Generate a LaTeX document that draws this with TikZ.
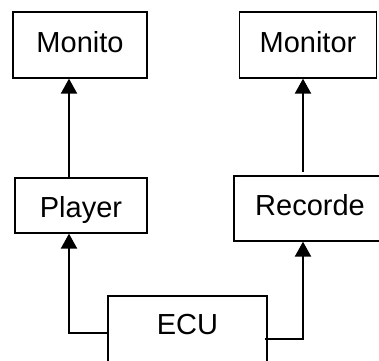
\documentclass[tikz,border=0pt]{standalone}
\usepackage{fontspec}
\setmainfont{Liberation Sans}
\usetikzlibrary{arrows.meta}

\begin{document}
\begin{tikzpicture}[x=1pt, y=-1pt,
		box/.style={draw, line width=1.3pt, inner sep=0pt, anchor=base, font=\fontsize{29}{34}\selectfont},
		link/.style={line width=2.2pt, -{Triangle[width=16pt,length=15pt]}}]
		%% The clip keeps the page at the size of the picture, so the boxes that run off the edge are cut
		\clip (0,0) rectangle (379,360);
		%% The boxes, placed at the baselines of their texts; text height and depth set the top and bottom edges
		\node[box, minimum width=134pt, text height=40pt, text depth=26pt] (monito) at (80,52) {Monito};
		\node[box, minimum width=137pt, text height=40pt, text depth=26pt] (monitor) at (308,52) {Monitor};
		\node[box, minimum width=132pt, text height=39pt, text depth=16pt] (player) at (81,217) {Player};
		\node[box, minimum width=152pt, text height=39pt, text depth=26pt] (recorde) at (310,215) {Recorde};
		%% The ECU text sits near the top of its box, so the depth pushes the box down
		\node[box, minimum width=159pt, text height=38pt, text depth=40pt] (ecu) at (187.5,334) {ECU};
		%% The arrows
		\draw[link] ([yshift=2pt]ecu.west) -| ([xshift=-12pt]player.south);
		\draw[link] ([xshift=-3pt,yshift=-4pt]ecu.east) -| ([xshift=-7pt]recorde.south);
		\draw[link] ([xshift=-12pt]player.north) -- ([xshift=-12pt]player.north |- monito.south);
		\draw[link] ([xshift=-7pt,yshift=3pt]recorde.north) -- ([xshift=-7pt]recorde.north |- monitor.south);
	\end{tikzpicture}
\end{document}
